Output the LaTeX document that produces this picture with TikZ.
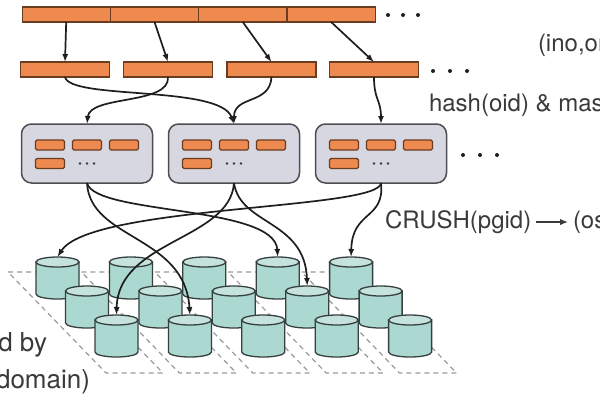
\documentclass[tikz,border=0pt]{standalone}
\usepackage{fontspec}
\setmainfont{TeX Gyre Heros}
\usetikzlibrary{arrows.meta}
\definecolor{ofill}{HTML}{EE8A50}
\definecolor{obrd}{HTML}{6A3C20}
\definecolor{bfill}{HTML}{D6D7E0}
\definecolor{bbrd}{HTML}{4E4E52}
\definecolor{cfill}{HTML}{ABD8D0}
\definecolor{ctop}{HTML}{C6E2DD}
\definecolor{cbrd}{HTML}{36403E}
\definecolor{linec}{HTML}{1E1E1E}
\definecolor{txtc}{HTML}{3A3A3A}
\definecolor{floorc}{HTML}{9A9A9A}
\tikzset{
  seg/.style={draw=obrd, fill=ofill, line width=1.1pt, minimum width=88.3pt, minimum height=15pt, inner sep=0pt, outer sep=0pt},
  pgbox/.style={draw=bbrd, fill=bfill, line width=1.5pt, rounded corners=10pt, minimum width=131pt, minimum height=59pt, inner sep=0pt, outer sep=0pt},
  objbox/.style={draw=obrd, fill=ofill, line width=1.1pt, rounded corners=1.5pt, minimum width=29pt, minimum height=10pt, inner sep=0pt},
  conn/.style={draw=linec, line width=1.7pt, -{Latex[length=8pt,width=6pt]}},
  txtarrow/.style={draw=txtc, line width=1.4pt, -{Latex[length=8pt,width=6.5pt]}, shorten <=5pt, shorten >=5pt},
  lbl/.style={font=\fontsize{24}{28}\selectfont, text=txtc, inner sep=0pt, outer sep=0pt},
  biglbl/.style={font=\fontsize{26}{30}\selectfont, text=txtc, inner sep=0pt, outer sep=0pt},
  cylbody/.style={fill=cfill, draw=cbrd, line width=1.3pt},
  cyltop/.style={fill=ctop, draw=cbrd, line width=1.3pt},
  floor/.style={draw=floorc, line width=1.2pt, dash pattern=on 5pt off 4pt}
}
\newcommand\drawcyl[3]{%
  \begin{scope}[shift={(#2,#3)}]
    \filldraw[cylbody] (0,5) -- (0,37) arc[start angle=180,end angle=0,x radius=21.5,y radius=5] -- (43,5) -- cycle;
    \filldraw[cyltop] (21.5,5) ellipse[x radius=21.5,y radius=5];
    \coordinate (#1) at (21.5,0);
  \end{scope}}
\begin{document}
\begin{tikzpicture}[x=1pt,y=-1pt]
\useasboundingbox (0,0) rectangle (600,400);
\clip (0,0) rectangle (600,400);
\fill[white] (0,0) rectangle (600,400);

% top bar
\node[seg] (t1) at (66.2,14.5) {};
\node[seg] (t2) at (154.5,14.5) {};
\node[seg] (t3) at (242.8,14.5) {};
\node[seg] (t4) at (331.1,14.5) {};
\foreach \x in {388,403,418} \fill[linec] (\x,15) circle[radius=2];

% second row
\node[seg, minimum width=89pt] (r1) at (65,69.5) {};
\node[seg, minimum width=89pt] (r2) at (168,69.5) {};
\node[seg, minimum width=89pt] (r3) at (271.5,69.5) {};
\node[seg, minimum width=89pt] (r4) at (374,69.5) {};
\foreach \x in {433,450,467} \fill[linec] (\x,71) circle[radius=2];

% placement group boxes
\foreach \n/\cx in {1/87,2/234,3/381}{
  \node[pgbox] (b\n) at (\cx,153.5) {};
  \node[objbox] (o\n a) at (\cx-37,145) {};
  \node[objbox] (o\n b) at (\cx,145) {};
  \node[objbox] (o\n c) at (\cx+37,145) {};
  \node[objbox] (o\n d) at (\cx-37,163.5) {};
  \foreach \d in {-7,0,7} \fill[txtc] (\cx+\d,163.5) circle[radius=1.3];
}
\foreach \x in {463,480,497} \fill[linec] (\x,155) circle[radius=2];

% failure-domain floor
\foreach \i in {0,...,4}
  \draw[floor] ({8+73.4*\i},272) -- ({65+73.4*\i},272) -- ({163+73.4*\i},373) -- ({106+73.4*\i},373) -- cycle;

% OSD cylinders
\foreach \j [count=\k] in {0,...,4} {
  \drawcyl{cA\k}{36+73.4*\j}{257}
}
\foreach \j [count=\k] in {0,...,4} {
  \drawcyl{cB\k}{65.5+73.4*\j}{286}
}
\foreach \j [count=\k] in {0,...,4} {
  \drawcyl{cC\k}{95+73.4*\j}{315}
}

% arrows: objects -> objects
\draw[conn] (t1.south) -- (r1.north);
\draw[conn] (t2.south) -- (r2.north);
\draw[conn] (t3.south) -- (r3.north);
\draw[conn] (t4.south) -- (r4.north);

% arrows: objects -> PGs
\draw[conn] (r1.south) .. controls (70,100) and (220,85) .. (b2.north);
\draw[conn] (r2.south) .. controls (170,105) and (90,95) .. (b1.north);
\draw[conn] (r3.south) .. controls (270,105) and (234,95) .. (b2.north);
\draw[conn] (r4.south) .. controls (374,100) and (381,100) .. (b3.north);

% arrows: PGs -> OSDs
\draw[conn] (b1.south) .. controls (95,215) and (275,205) .. (cA4);
\draw[conn] (b1.south) .. controls (90,240) and (185,235) .. (cC2);
\draw[conn] (b2.south) .. controls (230,240) and (118,240) .. (cC1);
\draw[conn] (b2.south) .. controls (240,225) and (305,220) .. (cB4);
\draw[conn] (b3.south) .. controls (380,210) and (90,205) .. (cA1);
\draw[conn] (b3.south) .. controls (385,220) and (352,210) .. (cA5);

% labels
\node[lbl, anchor=west] (l1) at (538,45) {(ino,ono)};
\node[lbl, anchor=west] (l2) at (429,105) {hash(oid) \& mask};
\node[lbl, anchor=west] (crush) at (385,222) {CRUSH(pgid)};
\node[lbl, anchor=west] (osd) at (573,222) {(osd1, osd2)};
\draw[txtarrow] (crush.east) -- (osd.west);
\node[biglbl, anchor=base east] (g1) at (47,351) {(grouped by};
\node[biglbl, anchor=base east] (g2) at (90,388) {failure domain)};
\end{tikzpicture}
\end{document}
